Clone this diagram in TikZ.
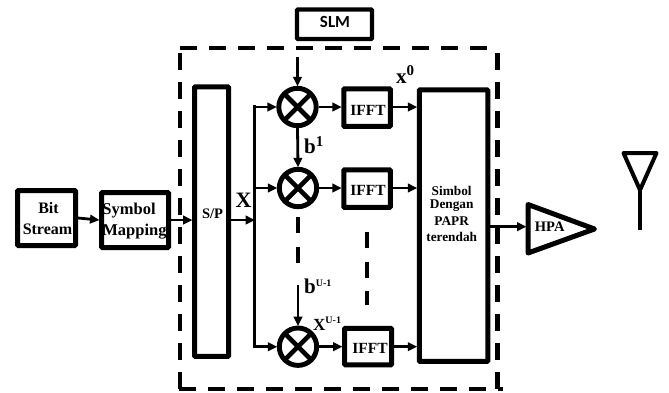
\documentclass[tikz,border=0pt]{standalone}
\usepackage{fontspec}
\setmainfont{Liberation Serif}
\newfontfamily\slmfont{Carlito}
\usetikzlibrary{arrows.meta}
\newcommand{\fs}[1]{\fontsize{#1}{#1}\selectfont\bfseries}
\tikzset{
  x=1pt,y=-1pt,
  blockbox/.style={draw,line width=5pt,rounded corners=0.8pt,inner sep=0pt,outer sep=2.5pt,anchor=center},
  mixer/.style={draw,circle,line width=4.9pt,minimum size=37.4pt,inner sep=0pt,outer sep=2.45pt,
    path picture={\draw[line width=4.6pt] (path picture bounding box.north west)--(path picture bounding box.south east)
      (path picture bounding box.north east)--(path picture bounding box.south west);}},
  conn/.style={line width=2.8pt,-{Triangle[length=9.5pt,width=8.5pt]},shorten >=-0.5pt},
  outline/.style={line width=4.6pt,dash pattern=on 16.5pt off 12.5pt},
  gap/.style={line width=4pt,dash pattern=on 16pt off 13.5pt},
  lbl/.style={inner sep=0pt,anchor=base west},
  txt/.style={inner sep=0pt,anchor=center},
}
\begin{document}
\begin{tikzpicture}
\useasboundingbox (0,0) rectangle (669,392);
% dashed frame
\coordinate (f1) at (180,48); \coordinate (f2) at (497.5,48);
\coordinate (f3) at (497.5,53); \coordinate (f4) at (497.5,389);
\coordinate (f5) at (179,389); \coordinate (f6) at (503,389);
\coordinate (f7) at (180,53); \coordinate (f8) at (180,389);
\draw[outline] (f1)--(f2);
\draw[outline] (f3)--(f4);
\draw[outline] (f5)--(f6);
\draw[outline] (f7)--(f8);
% blocks
\node[blockbox,minimum width=58pt,minimum height=55pt] (bit) at (46.5,218) {};
\node[blockbox,minimum width=67pt,minimum height=55pt] (sym) at (135,220) {};
\node[blockbox,minimum width=34pt,minimum height=269.5pt] (sp) at (211.5,221.7) {};
\node[blockbox,line width=4.2pt,outer sep=2.1pt,minimum width=75pt,minimum height=29.5pt] (slm) at (334.5,24.2) {};
\node[blockbox,minimum width=46.5pt,minimum height=37.5pt] (f1b) at (367,107.7) {};
\node[blockbox,minimum width=46.5pt,minimum height=37.5pt] (f2b) at (367,188.7) {};
\node[blockbox,minimum width=47pt,minimum height=36.5pt] (f3b) at (368,346.5) {};
\node[blockbox,minimum width=68.5pt,minimum height=271.5pt] (sel) at (453.5,225.7) {};
\node[mixer] (m1) at (297.5,107) {};
\node[mixer] (m2) at (298,188) {};
\node[mixer] (m3) at (298,346.7) {};
% HPA and antenna
\draw[line width=5pt,line join=round] (528,204.5) coordinate (h1) -- (594.5,229) coordinate (h2) -- (528,253) coordinate (h3) -- cycle;
\coordinate (hin) at (526,226.7);
\draw[line width=4pt,line join=round] (623.5,153) -- (656.5,153) -- (640,190) coordinate (ap) -- cycle;
\coordinate (as) at (640,230);
\draw[line width=4pt] (ap)--(as);
% text
\node[txt,font=\fs{16}] (t1) at (48.5,208) {Bit};
\node[txt,font=\fs{16}] (t2) at (47.5,229) {Stream};
\node[txt,font=\fs{16.5}] (t3) at (129,211) {Symbol};
\node[txt,font=\fs{16.5}] (t4) at (134.5,231.5) {Mapping};
\node[txt,font=\fs{14.5}] (t5) at (212.5,214) {S/P};
\node[txt,font=\slmfont\fs{17}] (t6) at (335,21.5) {SLM};
\node[txt,font=\fs{15.5}] (t7) at (368,110) {IFFT};
\node[txt,font=\fs{15.5}] (t8) at (368,190) {IFFT};
\node[txt,font=\fs{15.5}] (t9) at (370,348.5) {IFFT};
\node[txt,font=\fs{13.3}] (t10) at (451.7,190.7) {Simbol};
\node[txt,font=\fs{13.3}] (t11) at (451.7,206) {Dengan};
\node[txt,font=\fs{13.3}] (t12) at (451.7,221.3) {PAPR};
\node[txt,font=\fs{13.3}] (t13) at (451.7,236.7) {terendah};
\node[txt,font=\fs{14.5}] (t14) at (549.7,226.7) {HPA};
\node[txt,font=\fs{22}] (t15) at (243.5,200) {X};
\node[lbl,font=\fs{21}] (t16) at (304,153) {b\raisebox{7pt}{\fs{15}1}};
\node[lbl,font=\fs{21}] (t17) at (396,83) {x\raisebox{8pt}{\fs{15}0}};
\node[lbl,font=\fs{21}] (t18) at (304,293) {b\raisebox{7pt}{\fs{10}U-1}};
\node[lbl,font=\fs{17}] (t19) at (313,330) {X\raisebox{7pt}{\fs{10}U-1}};
% connectors
\coordinate (bus) at (254.5,220);
\coordinate (bust) at (254.5,107);
\coordinate (busb) at (254.5,346.7);
\coordinate (c1) at (297.5,57);
\coordinate (c2) at (298,285);
\draw[conn] (bit.east) -- (sym.west);
\draw[conn] (sym.east) -- (sym.east -| sp.west);
\draw[conn] (sp.east |- bus) -- (bus);
\draw[line width=3.2pt,line cap=rect] (bust) -- (busb);
\draw[conn] (bust) -- (m1.west);
\draw[conn] (bust |- m2.west) -- (m2.west);
\draw[conn] (busb) -- (m3.west);
\draw[conn] (c1) -- (m1.north);
\draw[conn] (m1.south) -- (m2.north);
\draw[conn] (c2) -- (m3.north);
\draw[conn] (m1.east) -- (f1b.west |- m1.east);
\draw[conn] (m2.east) -- (f2b.west |- m2.east);
\draw[conn] (m3.east) -- (f3b.west |- m3.east);
\draw[conn] (f1b.east |- m1.east) -- (sel.west |- m1.east);
\draw[conn] (f2b.east |- m2.east) -- (sel.west |- m2.east);
\draw[conn] (f3b.east |- m3.east) -- (sel.west |- m3.east);
\draw[conn] (sel.east |- hin) -- (hin);
% omitted-branch dashes
\coordinate (d1) at (298,217); \coordinate (d2) at (298,263);
\coordinate (d3) at (367,232); \coordinate (d4) at (367,305);
\draw[gap] (d1)--(d2);
\draw[gap] (d3)--(d4);
\end{tikzpicture}
\end{document}
